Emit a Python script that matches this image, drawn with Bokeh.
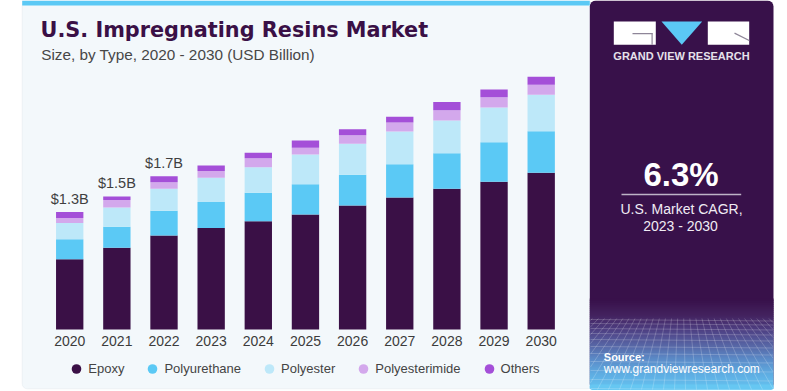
from bokeh.plotting import figure
from bokeh.models import (ColumnDataSource, Range1d, BoxAnnotation, PolyAnnotation,
                          Label, Legend, LegendItem)
from bokeh.core.properties import value
from bokeh.embed import file_html
from bokeh.resources import INLINE

# ---------------- data ----------------
years = [2020, 2021, 2022, 2023, 2024, 2025, 2026, 2027, 2028, 2029, 2030]
year_labels = [str(y) for y in years]
epoxy = [0.780, 0.905, 1.042, 1.124, 1.200, 1.275, 1.375, 1.463, 1.560, 1.637, 1.737]
polyurethane = [0.220, 0.233, 0.274, 0.289, 0.315, 0.336, 0.340, 0.369, 0.395, 0.439, 0.461]
polyester = [0.180, 0.214, 0.244, 0.270, 0.284, 0.330, 0.344, 0.363, 0.363, 0.385, 0.404]
polyesterimide = [0.055, 0.085, 0.073, 0.073, 0.100, 0.074, 0.095, 0.100, 0.114, 0.114, 0.111]
others = [0.067, 0.037, 0.067, 0.063, 0.060, 0.081, 0.067, 0.063, 0.089, 0.085, 0.089]
series_names = ["Epoxy", "Polyurethane", "Polyester", "Polyesterimide", "Others"]
value_labels = ["$1.3B", "$1.5B", "$1.7B"]

colors = ["#3A1046", "#5BC9F5", "#BDE8F9", "#D3A8EC", "#A44FD8"]

# ---------------- geometry helpers (page px -> canvas screen units) ----------------
W, H = 787, 391


def sx(px):
    return px


def sy(py):
    return H - py


p = figure(width=W, height=H, output_backend="svg", toolbar_location=None,
           x_range=Range1d(2018.532, 2035.224), y_range=Range1d(-0.6874, 3.6474),
           x_axis_type=None, y_axis_type=None, title=None, min_border=0)
p.grid.visible = False
p.outline_line_color = None
p.background_fill_color = "white"
p.border_fill_color = "white"


def box(l, r, t, b, color, alpha=1.0, level="underlay", radius=0, line=None):
    bx = BoxAnnotation(left=sx(l), right=sx(r), top=sy(t), bottom=sy(b),
                       left_units="screen", right_units="screen",
                       top_units="screen", bottom_units="screen",
                       fill_color=color, fill_alpha=alpha, line_color=line,
                       level=level, border_radius=radius)
    p.add_layout(bx)


def poly(xs, ys, fill=None, line=None, line_alpha=1.0, line_width=1, level="underlay"):
    pa = PolyAnnotation(xs=[sx(x) for x in xs], ys=[sy(y) for y in ys],
                        xs_units="screen", ys_units="screen",
                        fill_color=fill, fill_alpha=1.0 if fill else 0.0,
                        line_color=line, line_alpha=line_alpha, line_width=line_width,
                        level=level)
    p.add_layout(pa)


# card
box(21.7, 592, 0.5, 388.3, "#F3F8FB", radius=5, line="#D8DEE4")
box(21.7, 589.3, 0, 5, "#5BC9F5")
# right panel
box(589.3, 773, 0, 389.5, "#38114A", radius=6)


def hex2rgb(h):
    h = h.lstrip("#")
    return tuple(int(h[i:i + 2], 16) for i in (0, 2, 4))


stops = [(298, "#38114A"), (314, "#43225F"), (328, "#4E3F82"), (343, "#5763A3"),
         (358, "#5B8BC8"), (373, "#5FAEE3"), (390, "#66C7F2")]
yy = 298
while yy < 387:
    for (y0, c0), (y1, c1) in zip(stops[:-1], stops[1:]):
        if y0 <= yy <= y1:
            t = (yy - y0) / (y1 - y0)
            a, b = hex2rgb(c0), hex2rgb(c1)
            c = "#%02x%02x%02x" % tuple(int(round(a[k] + (b[k] - a[k]) * t)) for k in range(3))
            break
    box(589.3, 773, yy, yy + 2.5, c)
    yy += 2
box(589.3, 773, 384, 389.5, "#66C7F2", radius=6)

# mesh
for hy in [319, 323, 328, 333, 339, 346, 353, 361, 370, 379, 388]:
    poly([590, 772.5], [hy, hy + 1.5], line="white", line_alpha=0.2)
vx, vy = 681, 230
for xb in range(520, 850, 11):
    t0 = (318 - vy) / (389 - vy)
    xt = vx + (xb - vx) * t0
    x0, y0, x1, y1 = xt, 318, xb, 389
    if x1 < 590:
        if x0 < 590:
            continue
        f = (590 - x0) / (x1 - x0)
        x1, y1 = 590, y0 + (y1 - y0) * f
    if x1 > 772.5:
        if x0 > 772.5:
            continue
        f = (772.5 - x0) / (x1 - x0)
        x1, y1 = 772.5, y0 + (y1 - y0) * f
    poly([x0, x1], [y0, y1], line="white", line_alpha=0.2)

# logo
box(613.3, 655.3, 21, 44.3, "white")
box(707.3, 748.7, 21, 44.3, "white")
box(632, 652, 32.6, 33.8, "#8E8698")
box(651, 652.2, 32.6, 44.3, "#8E8698")
poly([734, 748.7], [32.6, 40], line="#8E8698", line_width=1.2)
poly([661, 701.7, 681.3], [21, 21, 44.3], fill="#5BC8F5")

# CAGR separator
box(621, 740.7, 193.3, 194.7, "#BDB3C6")

# ---------------- bars ----------------
source = ColumnDataSource(dict(year=years, Epoxy=epoxy, Polyurethane=polyurethane,
                               Polyester=polyester, Polyesterimide=polyesterimide,
                               Others=others))
p.vbar_stack(series_names, x="year", width=0.58, fill_color=colors, line_color=None,
             source=source)

totals = [e + u + s + i + o for e, u, s, i, o in
          zip(epoxy, polyurethane, polyester, polyesterimide, others)]
p.text(x=years[:len(value_labels)], y=totals[:len(value_labels)], text=value_labels,
       text_align="center", text_baseline="middle", y_offset=-13.5,
       text_font=value("Liberation Sans"), text_font_size="14.5px", text_color="#3F3F3F")

p.text(x=years, y=[0] * len(years), text=year_labels, text_align="center",
       text_baseline="middle", y_offset=11.8, text_font=value("Liberation Sans"),
       text_font_size="14px", text_color="#3C3C3C")

# ---------------- legend ----------------
items = []
for name, c in zip(series_names, colors):
    r = p.scatter(x=[float("nan")], y=[float("nan")], marker="circle",
                  fill_color=c, line_color=None)
    items.append(LegendItem(label=name, renderers=[r]))
legend = Legend(items=items, orientation="horizontal", location=(sx(64.3), 10.2),
                glyph_width=24, glyph_height=25, label_standoff=0, spacing=16,
                padding=0, margin=0, border_line_color=None, background_fill_alpha=0,
                label_text_font="Liberation Sans", label_text_font_size="13px",
                label_text_color="#444444")
p.add_layout(legend)

# ---------------- texts ----------------


def label(x, y, text, size, color, font="Liberation Sans", bold=False, align="left"):
    p.add_layout(Label(x=sx(x), y=sy(y), x_units="screen", y_units="screen", text=text,
                       text_font=font, text_font_size=size,
                       text_font_style="bold" if bold else "normal",
                       text_color=color, text_align=align, text_baseline="middle"))


label(40, 29.5, "U.S. Impregnating Resins Market", "20.8px", "#3A1046",
      font="DejaVu Sans", bold=True)
label(40.7, 54.0, "Size, by Type, 2020 - 2030 (USD Billion)", "15.3px", "#474747")
label(681, 55.4, "GRAND VIEW RESEARCH", "11px", "#E6E1EA", bold=True, align="center")
label(680.5, 173.5, "6.3%", "33px", "white", bold=True, align="center")
label(681, 208.4, "U.S. Market CAGR,", "14px", "#F0ECF4", align="center")
label(680, 225.1, "2023 - 2030", "14px", "#F0ECF4", align="center")
label(603.3, 356.6, "Source:", "11px", "white", bold=True)
label(603.3, 368.3, "www.grandviewresearch.com", "12px", "white")

open("out.html", "w").write(file_html(p, INLINE))
